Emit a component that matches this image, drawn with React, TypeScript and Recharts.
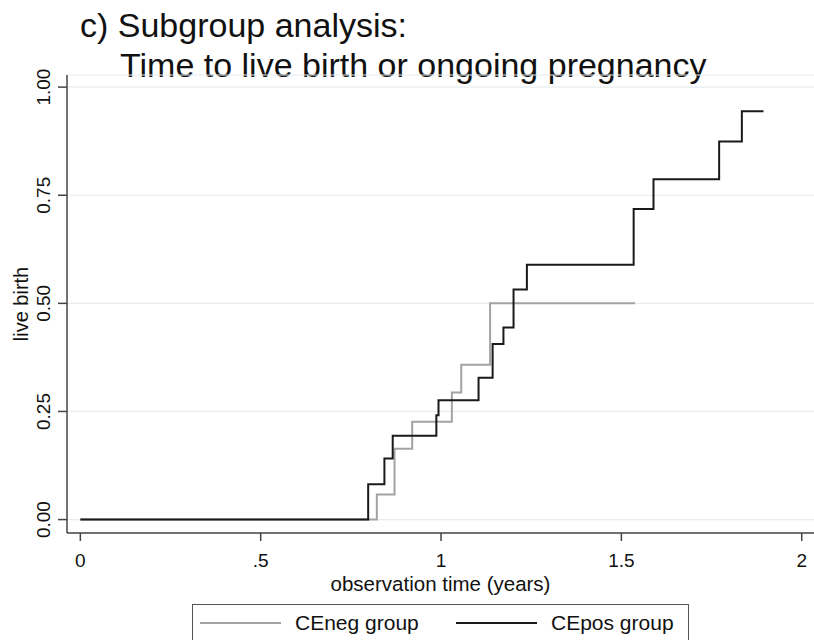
import { CartesianGrid, Line, LineChart, XAxis, YAxis } from "recharts"

const negTime = [0, 0.822, 0.871, 0.92, 1.03, 1.056, 1.136, 1.538]
const negRate = [0, 0.058, 0.164, 0.226, 0.294, 0.358, 0.5, 0.5]
const posTime = [0, 0.798, 0.843, 0.866, 0.987, 0.993, 1.104, 1.143, 1.173, 1.201, 1.238, 1.534, 1.589, 1.771, 1.834, 1.894]
const posRate = [0, 0.082, 0.141, 0.194, 0.241, 0.276, 0.328, 0.406, 0.444, 0.532, 0.589, 0.718, 0.787, 0.874, 0.944, 0.944]

const xTicks = [0, 0.5, 1, 1.5, 2]
const xTickLabels = ["0", ".5", "1", "1.5", "2"]
const yTicks = [0, 0.25, 0.5, 0.75, 1]
const yTickLabels = ["0.00", "0.25", "0.50", "0.75", "1.00"]

const seriesNames = ["CEneg group", "CEpos group"]
const seriesColors = ["#a3a3a3", "#1a1a1a"]

const FONT = '"Liberation Sans", Arial, sans-serif'

const negData = negTime.map((t, i) => ({ t, p: negRate[i] }))
const posData = posTime.map((t, i) => ({ t, p: posRate[i] }))

function YTick({ x, y, payload }: any) {
  const i = yTicks.indexOf(payload.value)
  return (
    <text x={x} y={y} transform={`rotate(-90, ${x}, ${y})`} textAnchor="middle" fontSize={19} fill="#111" fontFamily={FONT}>
      {yTickLabels[i]}
    </text>
  )
}

function YTitle({ viewBox }: any) {
  const cy = viewBox.y + viewBox.height / 2
  return (
    <text x={28} y={cy} transform={`rotate(-90, 28, ${cy})`} textAnchor="middle" fontSize={20} fill="#111" fontFamily={FONT}>
      live birth
    </text>
  )
}

export default function App() {
  return (
    <div style={{ position: "fixed", left: 0, top: 0, width: 814, height: 640, overflow: "hidden", background: "#fff", fontFamily: FONT, color: "#111" }}>
      <div style={{ position: "absolute", left: 80, top: 5, fontSize: 34, lineHeight: "40px", whiteSpace: "nowrap" }}>
        <div>c) Subgroup analysis:</div>
        <div style={{ paddingLeft: 40 }}>Time to live birth or ongoing pregnancy</div>
      </div>
      <LineChart width={814} height={640} margin={{ top: 75, right: 0, bottom: 0, left: 0 }} style={{ position: "absolute", left: 0, top: 0 }}>
        <CartesianGrid vertical={false} stroke="#e6eef0" strokeWidth={1.2} />
        <XAxis
          type="number"
          dataKey="t"
          domain={[-0.037, 2.034]}
          allowDataOverflow
          ticks={xTicks}
          tickFormatter={(v: number) => xTickLabels[xTicks.indexOf(v)]}
          height={107}
          tickSize={8}
          tickMargin={13}
          stroke="#444"
          strokeWidth={1.5}
          tick={{ fontSize: 19, fill: "#111", fontFamily: FONT }}
          label={{ value: "observation time (years)", position: "insideTop", offset: 43, fontSize: 20.5, fill: "#111", fontFamily: FONT }}
        />
        <YAxis
          type="number"
          domain={[-0.031, 1.028]}
          allowDataOverflow
          ticks={yTicks}
          width={67}
          tickSize={9}
          tickMargin={8}
          stroke="#444"
          strokeWidth={1.5}
          tick={<YTick />}
          label={{ content: <YTitle /> }}
        />
        <Line data={negData} dataKey="p" type="stepAfter" stroke={seriesColors[0]} strokeWidth={2} dot={false} isAnimationActive={false} />
        <Line data={posData} dataKey="p" type="stepAfter" stroke={seriesColors[1]} strokeWidth={2} dot={false} isAnimationActive={false} />
      </LineChart>
      <div style={{ position: "absolute", left: 192, top: 604, width: 497, height: 42, border: "1.5px solid #555", boxSizing: "border-box" }}>
        {seriesNames.map((name, i) => (
          <div key={name} style={{ position: "absolute", left: i === 0 ? 7 : 263, top: 6, display: "flex", alignItems: "center", whiteSpace: "nowrap" }}>
            <div style={{ width: 81, height: 2, background: seriesColors[i], marginRight: 14 }} />
            <span style={{ fontSize: 21, lineHeight: "24px" }}>{name}</span>
          </div>
        ))}
      </div>
    </div>
  )
}
